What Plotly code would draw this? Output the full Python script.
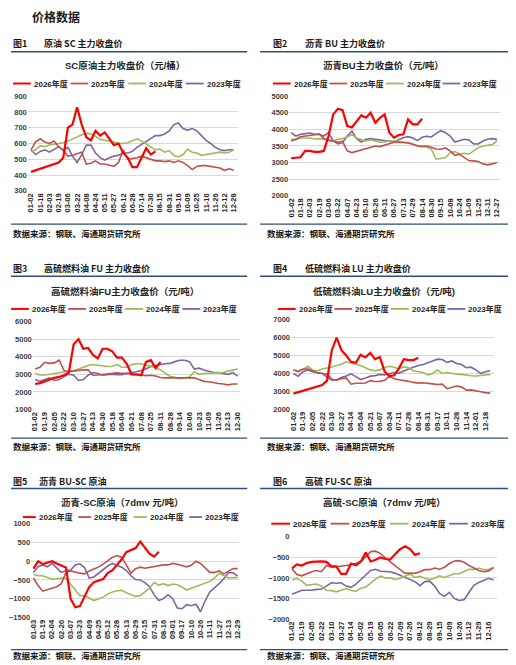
import plotly.graph_objects as go

W, H = 516, 665
# the page body adds an 8px margin, so page coordinates are shifted by this much
OFF = 8

years = ['2026年度', '2025年度', '2024年度', '2023年度']
colors = ['#FF0000', '#C0504D', '#9BBB59', '#8064A2']
widths = [2.2, 1.6, 1.6, 1.6]

# values are read every half tick (tick label interval = 2 samples)

# 图1 原油SC主力收盘价（元/桶）
sc_ticks = ['01-02', '01-18', '02-03', '02-19', '03-06', '03-22', '04-08', '04-24', '05-11', '05-27', '06-12',
            '06-28', '07-14', '07-30', '08-15', '08-31', '09-16', '10-09', '10-25', '11-10', '11-26', '12-12', '12-28']
sc_2026 = [420, 430, 440, 445, 460, 470, 480, 510, 700, 720, 830, 720, 640, 620, 680, 650, 670, 630, 590, 600,
           540, 510, 450, 450, 510, 570, 530, 550]
sc_2025 = [560, 610, 630, 610, 600, 615, 580, 560, 520, 525, 535, 545, 470, 475, 490, 470, 470, 460, 455, 480,
           560, 500, 505, 510, 520, 510, 500, 490, 490, 485, 490, 480, 490, 480, 460, 435, 455, 460, 460, 455,
           450, 445, 430, 440, 430]
sc_2024 = [550, 560, 585, 580, 590, 595, 600, 605, 615, 630, 640, 655, 665, 660, 645, 625, 620, 615, 610, 600,
           600, 605, 620, 630, 615, 595, 575, 560, 565, 545, 555, 525, 515, 530, 565, 545, 540, 525, 530, 535,
           540, 545, 540, 545, 560]
sc_2023 = [560, 530, 550, 560, 545, 560, 580, 555, 575, 520, 480, 530, 590, 590, 540, 510, 495, 510, 520, 525,
           540, 540, 550, 575, 595, 615, 635, 650, 650, 660, 680, 720, 730, 695, 685, 695, 680, 650, 620, 600,
           575, 560, 555, 560, 560]

# 图2 沥青BU主力收盘价（元/吨）
bu_ticks = ['01-02', '01-18', '02-03', '02-19', '03-06', '03-22', '04-07', '04-23', '05-10', '05-26', '06-11',
            '06-27', '07-13', '07-29', '08-14', '08-30', '09-15', '10-08', '10-24', '11-09', '11-25', '12-11', '12-27']
bu_2026 = [3130, 3150, 3160, 3350, 3350, 3320, 3320, 3350, 3800, 4450, 4620, 4580, 4100, 4060, 4250, 4420, 4350,
           4500, 4200, 4350, 4450, 3900, 3750, 3830, 3850, 4300, 4150, 4150, 4320]
bu_2025 = [3650, 3700, 3780, 3800, 3800, 3830, 3860, 3720, 3690, 3650, 3610, 3640, 3350, 3300, 3340, 3380, 3440,
           3480, 3500, 3480, 3520, 3580, 3610, 3610, 3600, 3590, 3550, 3500, 3480, 3500, 3460, 3410, 3400, 3440,
           3350, 3220, 3250, 3150, 3060, 3050, 3030, 2960, 2930, 2960, 3000]
bu_2024 = [3700, 3690, 3740, 3750, 3740, 3710, 3720, 3700, 3660, 3650, 3700, 3720, 3780, 3840, 3740, 3690, 3650,
           3690, 3650, 3610, 3620, 3650, 3650, 3640, 3620, 3600, 3560, 3510, 3500, 3470, 3400, 3100, 3120, 3150,
           3300, 3330, 3260, 3280, 3250, 3350, 3450, 3500, 3510, 3540, 3650]
bu_2023 = [3900, 3800, 3850, 3880, 3890, 3850, 3850, 3800, 3900, 3650, 3560, 3600, 3800, 3950, 3720, 3620, 3700,
           3720, 3700, 3680, 3650, 3640, 3620, 3690, 3750, 3780, 3740, 3660, 3760, 3790, 3770, 3880, 3960, 3900,
           3800, 3620, 3650, 3700, 3680, 3560, 3560, 3650, 3700, 3720, 3690]

# 图3 高硫燃料油FU主力收盘价（元/吨）
fu_ticks = ['01-02', '01-19', '02-05', '02-22', '03-10', '03-27', '04-13', '04-30', '05-18', '06-04', '06-21',
            '07-08', '07-25', '08-11', '08-28', '09-14', '10-06', '10-23', '11-09', '11-26', '12-13', '12-30']
fu_2026 = [2450, 2500, 2600, 2720, 2800, 2850, 2950, 3100, 4700, 5000, 4450, 4500, 4100, 3900, 4450, 4450, 4300,
           3950, 3950, 3600, 3000, 3000, 2950, 3700, 3800, 3350, 3700]
fu_2025 = [3300, 3400, 3680, 3620, 3650, 3800, 3220, 3150, 3180, 3230, 3260, 3250, 2950, 2960, 3000, 3000, 3080,
           3080, 3050, 3050, 3000, 3000, 2960, 2920, 2950, 2900, 2820, 2800, 2800, 2800, 2830, 2820, 2830, 2800,
           2700, 2600, 2580, 2520, 2480, 2450, 2400, 2450, 2450]
fu_2024 = [3050, 2960, 2960, 3000, 3050, 3100, 3120, 3180, 3220, 3300, 3420, 3500, 3560, 3520, 3460, 3440, 3460,
           3550, 3400, 3400, 3550, 3600, 3600, 3540, 3450, 3380, 3250, 3050, 2880, 2830, 2750, 2800, 2850, 3150,
           3000, 3050, 3070, 3100, 3100, 3100, 3180, 3250, 3300]
fu_2023 = [2700, 2600, 2700, 2800, 2650, 2700, 2880, 3000, 2950, 2650, 2700, 2950, 3100, 3050, 2950, 2980, 3000,
           2980, 2980, 3050, 3080, 3150, 3220, 3300, 3450, 3520, 3560, 3600, 3620, 3720, 3800, 3800, 3720, 3300,
           3350, 3250, 3180, 3100, 3100, 3050, 3000, 3100, 2900]

# 图4 低硫燃料油LU主力收盘价（元/吨）
lu_ticks = ['01-02', '01-19', '02-05', '02-22', '03-10', '03-27', '04-14', '05-04', '05-21', '06-07', '06-24',
            '07-11', '07-28', '08-14', '08-31', '09-17', '10-11', '10-28', '11-14', '12-01', '12-18']
lu_2026 = [2870, 2950, 3050, 3100, 3200, 3280, 3350, 3600, 5300, 6000, 5300, 5000, 4650, 4600, 5050, 4900, 5150,
           4800, 4920, 4100, 3850, 3900, 4300, 4800, 4750, 4750, 4880]
lu_2025 = [4200, 4100, 4250, 4250, 4150, 4030, 4000, 3950, 3680, 3620, 3700, 3750, 3400, 3450, 3450, 3470, 3600,
           3550, 3560, 3620, 3850, 3700, 3650, 3620, 3560, 3500, 3460, 3480, 3470, 3420, 3380, 3400, 3150, 3220,
           3300, 3250, 3060, 3080, 3050, 2980, 2930, 2900]
lu_2024 = [4200, 4150, 4220, 4400, 4180, 4150, 4250, 4300, 4360, 4450, 4520, 4650, 4600, 4520, 4450, 4330, 4200,
           4150, 4200, 4330, 4400, 4350, 4250, 4380, 4300, 4150, 4120, 4050, 3920, 4000, 4200, 4000, 4050, 4000,
           3960, 3950, 3900, 3870, 3860, 3900, 3920, 3950]
lu_2023 = [4000, 3850, 4100, 4200, 4100, 4050, 4000, 3800, 3620, 3650, 3780, 3860, 3980, 3820, 3660, 3740, 3850,
           3880, 3950, 3920, 4000, 4050, 4020, 4150, 4250, 4350, 4450, 4500, 4580, 4700, 4800, 4780, 4620, 4700,
           4560, 4500, 4320, 4350, 4200, 4000, 4100, 4150]

# 图5 沥青-SC原油（7dmv 元/吨）
bs_ticks = ['01-03', '01-19', '02-04', '02-20', '03-07', '03-23', '04-09', '04-25', '05-12', '05-28', '06-13',
            '06-29', '07-15', '07-31', '08-16', '09-01', '09-17', '10-10', '10-26', '11-11', '11-27', '12-13', '12-29']
bs_2026 = [-200, 0, -80, -50, 0, -60, -110, -170, -1000, -1230, -1200, -950, -690, -560, -530, -480, -320, -240,
           -100, 50, 240, 300, 350, 520, 350, 200, 120, 250]
bs_2025 = [-450, -650, -800, -760, -720, -680, -600, -300, -260, -300, -320, -340, -260, -210, -160, -80, 0, 100,
           150, 100, -100, -320, -200, -160, -190, -170, -150, -110, -100, -100, -60, -80, -110, -150, -110, 0,
           -60, -180, -300, -300, -260, -340, -280, -200, -200]
bs_2024 = [-350, -390, -390, -430, -480, -470, -450, -460, -620, -780, -920, -920, -990, -1050, -1010, -960, -880,
           -820, -790, -780, -840, -890, -940, -920, -830, -720, -570, -640, -600, -650, -610, -630, -690, -770,
           -720, -680, -620, -580, -540, -450, -320, -380, -450, -440, -440]
bs_2023 = [-300, -150, -100, -150, -60, -180, -300, -250, -240, -100, -70, -170, -450, -420, -320, -220, -130, -60,
           -120, -160, -250, -390, -490, -500, -570, -680, -900, -1050, -1000, -900, -1000, -1250, -1270, -1160,
           -1190, -1150, -1350, -1050, -820, -720, -600, -470, -310, -310, -400]

# 图6 高硫-SC原油（7dmv 元/吨）
fs_ticks = ['01-02', '01-19', '02-05', '02-22', '03-10', '03-27', '04-14', '05-02', '05-19', '06-05', '06-22',
            '07-09', '07-26', '08-12', '08-29', '09-15', '10-09', '10-26', '11-12', '11-29', '12-16']
fs_2026 = [-770, -670, -700, -640, -610, -600, -600, -610, -720, -720, -900, -900, -650, -690, -600, -380, -600,
           -560, -500, -540, -550, -420, -300, -230, -300, -440, -400]
fs_2025 = [-780, -920, -950, -900, -850, -820, -850, -700, -740, -730, -720, -700, -680, -650, -600, -480, -360,
           -350, -410, -510, -620, -710, -800, -890, -880, -890, -850, -800, -800, -760, -790, -740, -650, -590,
           -580, -620, -700, -770, -820, -850, -830, -750]
fs_2024 = [-1050, -1010, -1080, -1180, -1160, -1150, -1200, -1300, -1310, -1340, -1300, -1260, -1300, -1330, -1250,
           -1220, -1130, -1030, -960, -1000, -1000, -1040, -1010, -960, -910, -990, -960, -1010, -1040, -1010, -950,
           -990, -950, -900, -900, -840, -790, -800, -760, -800, -790, -750]
fs_2023 = [-1400, -1340, -1300, -1300, -1300, -1280, -1270, -1200, -1120, -1130, -1120, -1200, -1230, -1150, -1030,
           -930, -820, -790, -840, -850, -850, -890, -940, -990, -1040, -1090, -1190, -1090, -1080, -1200, -1380,
           -1450, -1350, -1500, -1550, -1530, -1350, -1180, -1110, -1060, -1010, -1050]

# layout of each panel in page pixels
panels = [
    dict(num='图1', head='原油 SC 主力收盘价', head_x=(8, 39), head_y=39.5,
         title='SC原油主力收盘价（元/桶）', title_xy=(123, 62), legend=(10, 80.5, 58.3, 18),
         ticks=sc_ticks, series=[sc_2026, sc_2025, sc_2024, sc_2023], yr=[300, 900], dtick=100,
         xpx=(25, 238), ypx=(93.3, 189.3), xr=[-0.35, 22.5]),
    dict(num='图2', head='沥青 BU 主力收盘价', head_x=(271, 303), head_y=39.5,
         title='沥青BU主力收盘价（元/吨）', title_xy=(385, 62), legend=(273, 80.5, 57.2, 18),
         ticks=bu_ticks, series=[bu_2026, bu_2025, bu_2024, bu_2023], yr=[2000, 5000], dtick=500,
         xpx=(289.5, 503), ypx=(93.3, 194.3), xr=[-0.2, 22.35]),
    dict(num='图3', head='高硫燃料油 FU 主力收盘价', head_x=(8, 39), head_y=268,
         title='高硫燃料油FU主力收盘价（元/吨）', title_xy=(123, 291), legend=(8, 309, 57.8, 18),
         ticks=fu_ticks, series=[fu_2026, fu_2025, fu_2024, fu_2023], yr=[1000, 6000], dtick=1000,
         xpx=(30, 239.3), ypx=(321.7, 411), xr=[-0.24, 21.2]),
    dict(num='图4', head='低硫燃料油 LU 主力收盘价', head_x=(271, 303), head_y=268,
         title='低硫燃料油LU主力收盘价（元/吨)', title_xy=(385, 291), legend=(278, 309, 57.2, 18),
         ticks=lu_ticks, series=[lu_2026, lu_2025, lu_2024, lu_2023], yr=[2000, 7000], dtick=1000,
         xpx=(291.3, 496.3), ypx=(320, 410.7), xr=[-0.25, 20.85]),
    dict(num='图5', head='沥青 BU-SC 原油', head_x=(8, 34), head_y=483.5,
         title='沥青-SC原油（7dmv 元/吨）', title_xy=(120, 505), legend=(20, 520, 56.1, 13),
         ticks=bs_ticks, series=[bs_2026, bs_2025, bs_2024, bs_2023], yr=[-1500, 1000], dtick=500,
         xpx=(28.3, 238.3), ypx=(526.7, 621.7), xr=[-0.26, 22.1]),
    dict(num='图6', head='高硫 FU-SC 原油', head_x=(271, 303), head_y=483.5,
         title='高硫-SC原油（7dmv 元/吨）', title_xy=(385, 505), legend=(271.3, 526.7, 60, 19),
         ticks=fs_ticks, series=[fs_2026, fs_2025, fs_2024, fs_2023], yr=[-2000, 0], dtick=500,
         xpx=(290.7, 499.7), ypx=(540, 623.3), xr=[-0.16, 20.84]),
]

SANS = 'Liberation Sans, Arial, Noto Sans CJK SC'
CJK = 'Noto Sans CJK SC'
BLUE = '#2F4F7F'

fig = go.Figure()
annotations = []
shapes = []


def px(x):
    return (x - OFF) / W


def py(y):
    return 1 - (y - OFF) / H


def text(x, y, s, size, family=CJK, weight='bold', anchor='left', color='#1a1a1a'):
    annotations.append(dict(x=px(x), y=py(y), xref='paper', yref='paper', text=s, showarrow=False,
                            xanchor=anchor, yanchor='middle',
                            font=dict(family=family, size=size, color=color, weight=weight)))


def hline(x0, x1, y, color=BLUE, width=1.5):
    shapes.append(dict(type='line', xref='paper', yref='paper', x0=px(x0), x1=px(x1), y0=py(y), y1=py(y),
                       line=dict(color=color, width=width)))


for i, p in enumerate(panels, start=1):
    sfx = '' if i == 1 else str(i)
    xa, ya = 'x' + sfx, 'y' + sfx
    for j in [3, 2, 1, 0]:
        vals = p['series'][j]
        fig.add_trace(go.Scatter(x=[k / 2 for k in range(len(vals))], y=vals, mode='lines', name=years[j],
                                 line=dict(color=colors[j], width=widths[j]), xaxis=xa, yaxis=ya,
                                 showlegend=False, hoverinfo='skip'))
    x0, x1 = p['xpx']
    y0, y1 = p['ypx']
    fig.update_layout({
        'xaxis' + sfx: dict(domain=[px(x0), px(x1)], range=p['xr'], anchor=ya, tickmode='array',
                            tickvals=list(range(len(p['ticks']))), ticktext=p['ticks'], tickangle=-90,
                            showgrid=False, zeroline=False, showline=False, ticks='',
                            tickfont=dict(family=SANS, size=7.5, color='#262626', weight='bold')),
        'yaxis' + sfx: dict(domain=[py(y1), py(y0)], range=p['yr'], dtick=p['dtick'], anchor=xa,
                            showgrid=True, gridcolor='#D9D9D9', gridwidth=0.8, zeroline=False,
                            showline=False, ticks='',
                            tickfont=dict(family=SANS, size=7.5, color='#404040', weight='bold')),
    })

    # panel header and chart title
    text(p['head_x'][0], p['head_y'], p['num'], 9)
    text(p['head_x'][1], p['head_y'], p['head'], 9)
    text(p['title_xy'][0], p['title_xy'][1], p['title'], 9.5, family=SANS, weight='bold',
         anchor='center', color='#262626')

    # legend row
    lx, ly, pitch, llen = p['legend']
    for j in range(4):
        sx = lx + j * pitch
        shapes.append(dict(type='line', xref='paper', yref='paper', x0=px(sx), x1=px(sx + llen),
                           y0=py(ly), y1=py(ly), line=dict(color=colors[j], width=2 if j == 0 else 1.8)))
        text(sx + llen + 1, ly, years[j], 8, family=SANS, weight='bold', color='#262626')

# page title
text(27, 12.5, '价格数据', 12)

# section rules and source notes
source = '数据来源：钢联、海通期货研究所'
for yh, yb, ys in [(48.3, 223, 232.5), (276, 440, 448.3), (491, 654.3, 660)]:
    hline(OFF, 247, yh)
    hline(260, 516, yh)
    hline(OFF, 247, yb, width=1.2)
    hline(260, 516, yb, width=1.2)
    text(OFF, ys, source, 8.5, weight='bold')
    text(264.5, ys, source, 8.5, weight='bold')

fig.update_layout(width=W, height=H, margin=dict(l=0, r=0, t=0, b=0),
                  paper_bgcolor='white', plot_bgcolor='white',
                  annotations=annotations, shapes=shapes, showlegend=False)

fig.write_html("out.html")
